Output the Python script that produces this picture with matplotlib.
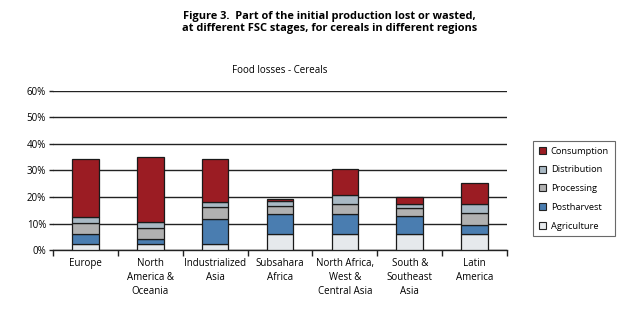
import numpy as np
import matplotlib
matplotlib.use("Agg")
import matplotlib.pyplot as plt
from matplotlib.patches import Patch

plt.rcParams['font.family'] = ['Open Sans', 'DejaVu Sans']

# --------------------------------------------------
# Data (share of initial production, %)
# --------------------------------------------------
regions = ["Europe", "North\nAmerica &\nOceania", "Industrialized\nAsia",
           "Subsahara\nAfrica", "North Africa,\nWest &\nCentral Asia",
           "South &\nSoutheast\nAsia", "Latin\nAmerica"]

agriculture = [2.1, 2.1, 2.1, 5.9, 5.9, 5.9, 5.9]
postharvest = [3.8, 2.2, 9.5, 7.6, 7.6, 6.8, 3.7]
processing = [4.4, 4.1, 4.5, 3.1, 3.9, 3.1, 4.4]
distribution = [2.2, 2.0, 2.0, 1.8, 3.2, 1.4, 3.2]
consumption = [21.7, 24.6, 16.1, 0.8, 9.8, 2.8, 8.2]

stages = ["Agriculture", "Postharvest", "Processing", "Distribution", "Consumption"]
colors = ["#e6e9ec", "#4a7db0", "#b1b1b1", "#a9b9c4", "#9b1c23"]
series = [agriculture, postharvest, processing, distribution, consumption]

# --------------------------------------------------
# Figure
# --------------------------------------------------
fig = plt.figure(figsize=(6.34, 3.26), dpi=100)
ax = fig.add_axes([0.0836, 0.2331, 0.7161, 0.4878])

x = np.arange(len(regions))
bottom = np.zeros(len(regions))
for vals, col in zip(series, colors):
    v = np.array(vals) / 100
    ax.bar(x, v, 0.41, bottom=bottom, color=col, edgecolor="#1a1a1a",
           linewidth=0.9, zorder=3)
    bottom += v

ax.set_xlim(-0.5, len(regions) - 0.5)
ax.set_ylim(0, 0.6)
ax.set_yticks(np.arange(0, 0.61, 0.1))
ax.set_yticklabels([f"{int(round(t * 100))}%" for t in np.arange(0, 0.61, 0.1)])
ax.yaxis.grid(True, color="#222222", linewidth=1.0, zorder=0)
ax.tick_params(axis="y", length=3, width=1.0, color="#222222", labelsize=7, pad=2)

ax.set_xticks(x)
ax.set_xticklabels(regions, fontsize=7, linespacing=1.35)
ax.tick_params(axis="x", which="major", length=0, pad=6)
ax.set_xticks(np.arange(-0.5, len(regions), 1), minor=True)
ax.tick_params(axis="x", which="minor", length=4, width=1.0, color="#222222",
               direction="out")

for s in ["top", "right", "left"]:
    ax.spines[s].set_visible(False)
ax.spines["bottom"].set_color("#222222")
ax.spines["bottom"].set_linewidth(1.0)

ax.set_title("Food losses - Cereals", fontsize=7, pad=13)

fig.text(0.52, 0.967, "Figure 3.  Part of the initial production lost or wasted,\n"
         "at different FSC stages, for cereals in different regions",
         ha="center", va="top", fontsize=7.9, fontweight="bold", linespacing=1.2)

handles = [Patch(facecolor=c, edgecolor="#222222", linewidth=0.8) for c in colors]
leg = fig.legend(handles[::-1], stages[::-1], loc="upper left",
                 bbox_to_anchor=(0.841, 0.5675), fontsize=6.7, frameon=True,
                 fancybox=False, edgecolor="#444444", handlelength=0.8,
                 handleheight=0.8, handletextpad=0.5, labelspacing=1.05,
                 borderpad=0.6, borderaxespad=0)
leg.get_frame().set_linewidth(0.8)

fig.savefig("out.png", dpi=100)
